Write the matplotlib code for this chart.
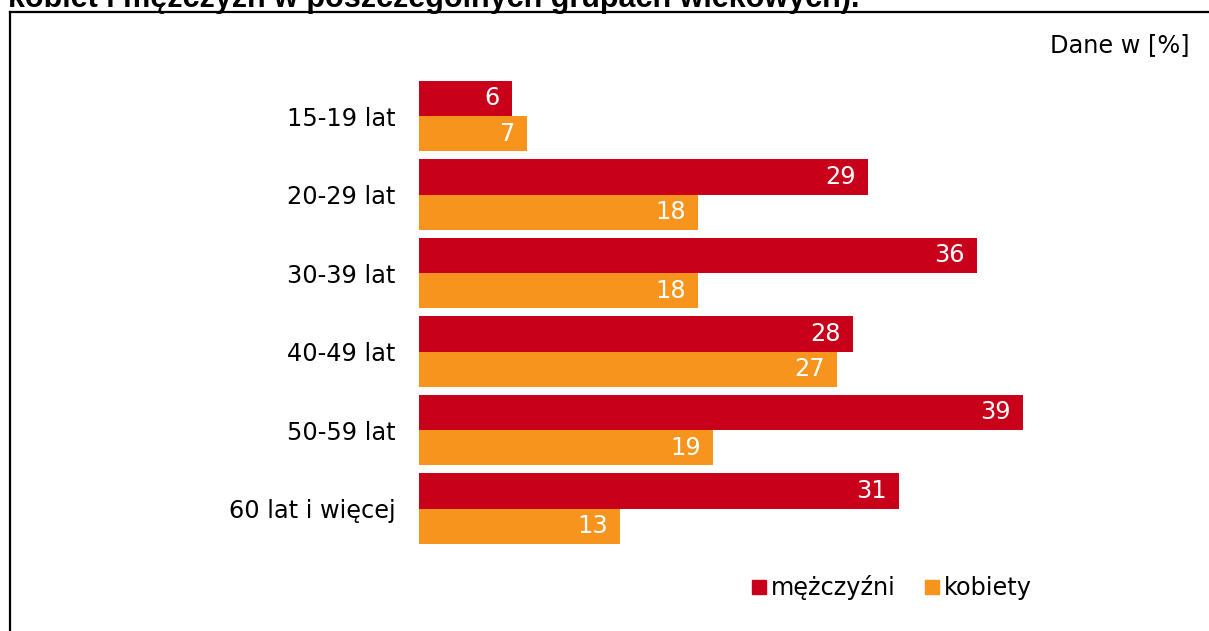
import matplotlib
matplotlib.use("Agg")
import matplotlib.pyplot as plt
from matplotlib.lines import Line2D
from matplotlib.patches import Patch

categories = ["15-19 lat", "20-29 lat", "30-39 lat", "40-49 lat", "50-59 lat", "60 lat i więcej"]
men = [6, 29, 36, 28, 39, 31]
women = [7, 18, 18, 27, 19, 13]
series_names = ["mężczyźni", "kobiety"]
title_text = "kobiet i mężczyzn w poszczególnych grupach wiekowych)."
unit_text = "Dane w [%]"

RED = "#C8001A"
ORANGE = "#F7941E"

W, H = 1209, 631
fig = plt.figure(figsize=(W / 100, H / 100), dpi=100)
fig.patch.set_facecolor("white")

FS = 17.3

# axes placement in pixels
ax_left, ax_right = 419, 419 + 50 * 15.49
ax_top, ax_bot = 70, 560
ax = fig.add_axes([ax_left / W, 1 - ax_bot / H, (ax_right - ax_left) / W, (ax_bot - ax_top) / H])

pos = list(range(len(categories)))
bh = 0.452
ax.barh([p - bh / 2 for p in pos], men, height=bh, color=RED, label=series_names[0])
ax.barh([p + bh / 2 for p in pos], women, height=bh, color=ORANGE, label=series_names[1])

ax.set_xlim(0, 50)
ax.set_ylim(len(categories) - 1 + 0.656, -0.586)

px = 50 / (ax_right - ax_left)
for p, v in zip(pos, men):
    ax.text(v - 12 * px, p - bh / 2, str(v), ha="right", va="center", color="white", fontsize=FS)
for p, v in zip(pos, women):
    ax.text(v - 12 * px, p + bh / 2, str(v), ha="right", va="center", color="white", fontsize=FS)

ax.set_yticks(pos)
ax.set_yticklabels(categories, fontsize=FS)
ax.tick_params(axis="y", length=0, pad=17)
ax.set_xticks([])
for s in ax.spines.values():
    s.set_visible(False)

# legend
handles = [Patch(color=RED), Patch(color=ORANGE)]
fig.legend(handles, series_names, loc="center", bbox_to_anchor=(892 / W, 1 - 588 / H),
           ncol=2, frameon=False, fontsize=FS, handlelength=0.58, handleheight=0.58,
           handletextpad=0.2, columnspacing=1.2)

# unit text
fig.text(1190 / W, 1 - 45 / H, unit_text, ha="right", va="center", fontsize=FS)

# title (clipped at top)
fig.text(8 / W, 1 - 7 / H, title_text, ha="left", va="baseline", fontsize=22,
         fontweight="bold", family="Liberation Sans")

# border
fig.add_artist(Line2D([9.5 / W, 1.0], [1 - 12 / H, 1 - 12 / H], color="black", lw=1.6))
fig.add_artist(Line2D([9.5 / W, 9.5 / W], [1 - 12 / H, 0], color="black", lw=1.6))

fig.savefig("out.png", dpi=100)
